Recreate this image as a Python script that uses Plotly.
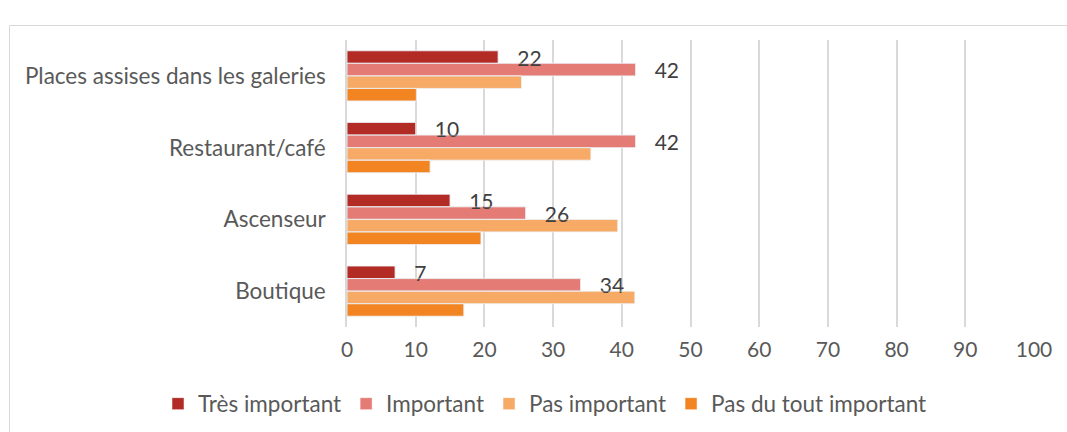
import plotly.graph_objects as go

# Survey items (top to bottom) and answer shares in %
categories = ["Places assises dans les galeries", "Restaurant/café", "Ascenseur", "Boutique"]
series_names = ["Très important", "Important", "Pas important", "Pas du tout important"]
tres_important = [22, 10, 15, 7]
important = [42, 42, 26, 34]
pas_important = [25.4, 35.5, 39.4, 41.9]
pas_du_tout = [10.1, 12.1, 19.5, 17.0]
x_ticks = [0, 10, 20, 30, 40, 50, 60, 70, 80, 90, 100]

series_values = [tres_important, important, pas_important, pas_du_tout]
colors = ["#B22B25", "#E47C75", "#F7A966", "#F38422"]
labelled = [True, True, False, False]

W, H = 1067, 432
M_L, M_R, M_T, M_B = 347, 33, 40, 105
FONT = "Lato, 'Liberation Sans', Arial, sans-serif"
GAP = "\u00a0" * 3

fig = go.Figure()
# the bars
for name, vals, col in zip(series_names, series_values, colors):
    fig.add_trace(go.Bar(
        name=name, y=categories, x=vals, orientation="h",
        marker=dict(color=col, line=dict(color="white", width=0.5)),
        hoverinfo="x+name",
    ))

# value labels on an overlaid axis so they sit above every bar
for name, vals, lab in zip(series_names, series_values, labelled):
    fig.add_trace(go.Bar(
        name=name, y=categories, x=vals, orientation="h", yaxis="y2",
        marker=dict(color="rgba(0,0,0,0)"),
        text=[GAP + f"{v:.0f}" for v in vals] if lab else None,
        textposition="outside" if lab else "none",
        textfont=dict(family=FONT, size=21, color="#404040"),
        constraintext="none", cliponaxis=False,
        showlegend=False, hoverinfo="skip",
    ))

# chart frame (extends past the page edges on the right and bottom)
pw = W - M_L - M_R
ph = H - M_T - M_B
def px_x(px):
    return (px - M_L) / pw
def px_y(py):
    return 1 - (py - M_T) / ph

fig.add_shape(type="rect", xref="paper", yref="paper",
              x0=px_x(9.5), x1=px_x(W + 20), y0=px_y(H + 20), y1=px_y(25.5),
              line=dict(color="#D9D9D9", width=1), fillcolor="rgba(0,0,0,0)",
              layer="below")

fig.update_layout(
    width=W, height=H,
    margin=dict(l=M_L, r=M_R, t=M_T, b=M_B, autoexpand=False),
    paper_bgcolor="white", plot_bgcolor="white",
    barmode="group", bargap=0.30, bargroupgap=0,
    font=dict(family=FONT, size=21, color="#595959"),
    showlegend=True,
    legend=dict(orientation="h", xref="paper", yref="paper",
                x=px_x(158), xanchor="left", y=px_y(404), yanchor="middle",
                font=dict(family=FONT, size=22.5, color="#595959"),
                traceorder="normal", itemwidth=30),
    xaxis=dict(range=[0, 100], tickvals=x_ticks, ticktext=[str(t) for t in x_ticks],
               showgrid=True, gridcolor="#D9D9D9", gridwidth=1.5,
               zeroline=False, showline=False, ticks="", ticklabelstandoff=8,
               tickfont=dict(family=FONT, size=21, color="#595959")),
    yaxis=dict(autorange="reversed", showgrid=False, zeroline=False,
               showline=True, linecolor="#D9D9D9", linewidth=1.5,
               ticks="", ticklabelstandoff=15,
               tickfont=dict(family=FONT, size=22.5, color="#595959")),
    yaxis2=dict(overlaying="y", autorange="reversed", showgrid=False, zeroline=False,
                showline=False, showticklabels=False, ticks=""),
)

fig.write_html("out.html")
